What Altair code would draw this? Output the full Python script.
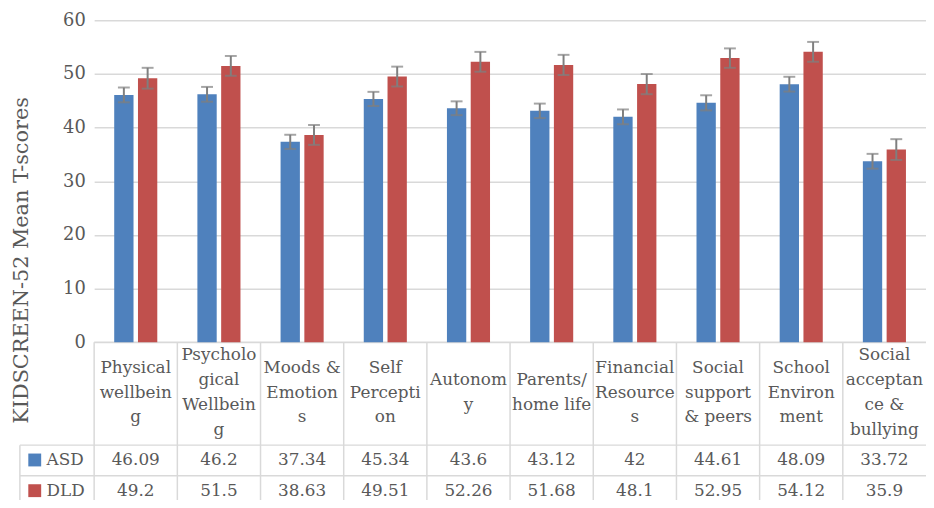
import altair as alt
import pandas as pd

categories = ["Physical wellbeing", "Psychological Wellbeing", "Moods & Emotions",
              "Self Perception", "Autonomy", "Parents/home life", "Financial Resources",
              "Social support & peers", "School Environment", "Social acceptance & bullying"]
cat_labels = ["Physical\nwellbein\ng", "Psycholo\ngical\nWellbein\ng", "Moods &\nEmotion\ns",
              "Self\nPercepti\non", "Autonom\ny", "Parents/\nhome life", "Financial\nResource\ns",
              "Social\nsupport\n& peers", "School\nEnviron\nment", "Social\nacceptan\nce &\nbullying"]
groups = ["ASD", "DLD"]
asd = [46.09, 46.2, 37.34, 45.34, 43.6, 43.12, 42, 44.61, 48.09, 33.72]
dld = [49.2, 51.5, 38.63, 49.51, 52.26, 51.68, 48.1, 52.95, 54.12, 35.9]
asd_err = [1.38, 1.38, 1.32, 1.32, 1.29, 1.35, 1.38, 1.41, 1.38, 1.38]
dld_err = [1.94, 1.85, 1.85, 1.85, 1.85, 1.88, 1.88, 1.81, 1.85, 1.94]
colors = ["#4F81BD", "#C0504D"]

rows = []
for i, c in enumerate(categories):
    for g, vals, errs in (("ASD", asd, asd_err), ("DLD", dld, dld_err)):
        rows.append({"cat": c, "label": cat_labels[i], "nl": cat_labels[i].count("\n") + 1,
                     "group": g, "value": vals[i], "err": errs[i], "txt": f"{vals[i]:g}"})
df = pd.DataFrame(rows)
leg = pd.DataFrame({"group": groups})
one = pd.DataFrame({"a": [0]})

FONT = "DejaVu Serif"
TXT = "#595959"
LINE = "#d9d9d9"
FS = 17
W, H = 840, 325

xs = alt.Scale(domain=categories, paddingInner=0, paddingOuter=0)
xo = alt.Scale(domain=groups, paddingInner=0.1875, paddingOuter=0.84375)
ys = alt.Scale(domain=[0, 60], nice=False)
X = alt.X("cat:N", scale=xs, axis=None, sort=categories)
XO = alt.XOffset("group:N", scale=xo, sort=groups)

base = alt.Chart(df)

bars = base.mark_bar().encode(
    x=X, xOffset=XO,
    y=alt.Y("value:Q", scale=ys,
            axis=alt.Axis(values=[0, 10, 20, 30, 40, 50, 60], grid=True, gridColor=LINE,
                          gridWidth=1.5, domain=False, ticks=False, tickSize=0,
                          labelFont=FONT, labelFontSize=18, labelColor=TXT, labelPadding=9,
                          title="KIDSCREEN-52 Mean T-scores", titleFont=FONT,
                          titleFontSize=21, titleFontWeight="normal", titleColor=TXT,
                          titleX=-73, titleY=242, titleAlign="center",
                          titleBaseline="middle", titleAngle=270)),
    color=alt.Color("group:N", scale=alt.Scale(domain=groups, range=colors), legend=None),
)

err_base = base.transform_calculate(lo="datum.value - datum.err", hi="datum.value + datum.err")
err_rule = err_base.mark_rule(color="#7f7f7f", strokeWidth=2).encode(
    x=X, xOffset=XO, y=alt.Y("lo:Q", scale=ys), y2="hi:Q")
cap_lo = err_base.mark_tick(color="#7f7f7f", thickness=2, size=12, orient="horizontal").encode(
    x=X, xOffset=XO, y=alt.Y("lo:Q", scale=ys))
cap_hi = err_base.mark_tick(color="#7f7f7f", thickness=2, size=12, orient="horizontal").encode(
    x=X, xOffset=XO, y=alt.Y("hi:Q", scale=ys))

# table grid lines
vlines = base.transform_filter("datum.group == 'ASD'").mark_rule(color=LINE, strokeWidth=1.5).encode(
    x=alt.X("cat:N", scale=xs, axis=None, sort=categories, bandPosition=0),
    y=alt.value(H), y2=alt.value(H + 200))
hl_axis = alt.Chart(one).mark_rule(color=LINE, strokeWidth=1.5).encode(
    x=alt.value(0), x2=alt.value(W), y=alt.value(H))
hl_1 = alt.Chart(one).mark_rule(color=LINE, strokeWidth=1.5).encode(
    x=alt.value(-75), x2=alt.value(W), y=alt.value(429))
hl_2 = alt.Chart(one).mark_rule(color=LINE, strokeWidth=1.5).encode(
    x=alt.value(-75), x2=alt.value(W), y=alt.value(460))
vl_left = alt.Chart(one).mark_rule(color=LINE, strokeWidth=1.5).encode(
    x=alt.value(-75), y=alt.value(429), y2=alt.value(H + 200))

LH = 25
cat_layers = []
for n in (2, 3, 4):
    cat_layers.append(
        base.transform_filter(f"datum.group == 'ASD' && datum.nl == {n}").mark_text(
            font=FONT, fontSize=FS, color=TXT, baseline="middle", align="center",
            lineBreak="\n", lineHeight=LH).encode(
            x=X, y=alt.value(376 - (n - 1) * LH / 2), text="label:N"))

asd_text = base.transform_filter("datum.group == 'ASD'").mark_text(
    font=FONT, fontSize=FS, color=TXT, baseline="middle", align="center").encode(
    x=X, y=alt.value(444), text="txt:N")
dld_text = base.transform_filter("datum.group == 'DLD'").mark_text(
    font=FONT, fontSize=FS, color=TXT, baseline="middle", align="center").encode(
    x=X, y=alt.value(475), text="txt:N")

leg_sq_a = alt.Chart(leg).transform_filter("datum.group == 'ASD'").mark_square(
    size=169, opacity=1, filled=True).encode(
    x=alt.value(-60), y=alt.value(444),
    color=alt.Color("group:N", scale=alt.Scale(domain=groups, range=colors), legend=None))
leg_sq_d = alt.Chart(leg).transform_filter("datum.group == 'DLD'").mark_square(
    size=169, opacity=1, filled=True).encode(
    x=alt.value(-60), y=alt.value(475),
    color=alt.Color("group:N", scale=alt.Scale(domain=groups, range=colors), legend=None))
leg_t_a = alt.Chart(leg).transform_filter("datum.group == 'ASD'").mark_text(
    font=FONT, fontSize=FS, color=TXT, baseline="middle", align="left").encode(
    x=alt.value(-48), y=alt.value(444), text="group:N")
leg_t_d = alt.Chart(leg).transform_filter("datum.group == 'DLD'").mark_text(
    font=FONT, fontSize=FS, color=TXT, baseline="middle", align="left").encode(
    x=alt.value(-48), y=alt.value(475), text="group:N")

chart = alt.layer(
    vlines, hl_axis, hl_1, hl_2, vl_left,
    bars, err_rule, cap_lo, cap_hi,
    *cat_layers, asd_text, dld_text,
    leg_sq_a, leg_sq_d, leg_t_a, leg_t_d,
).properties(
    width=W, height=H,
    autosize=alt.AutoSizeParams(type="none"),
    padding={"left": 87, "top": 10, "right": 0, "bottom": 157},
    background="white",
).configure_view(stroke=None)

chart.save("out.html", embed_options={"renderer": "svg", "actions": False})
